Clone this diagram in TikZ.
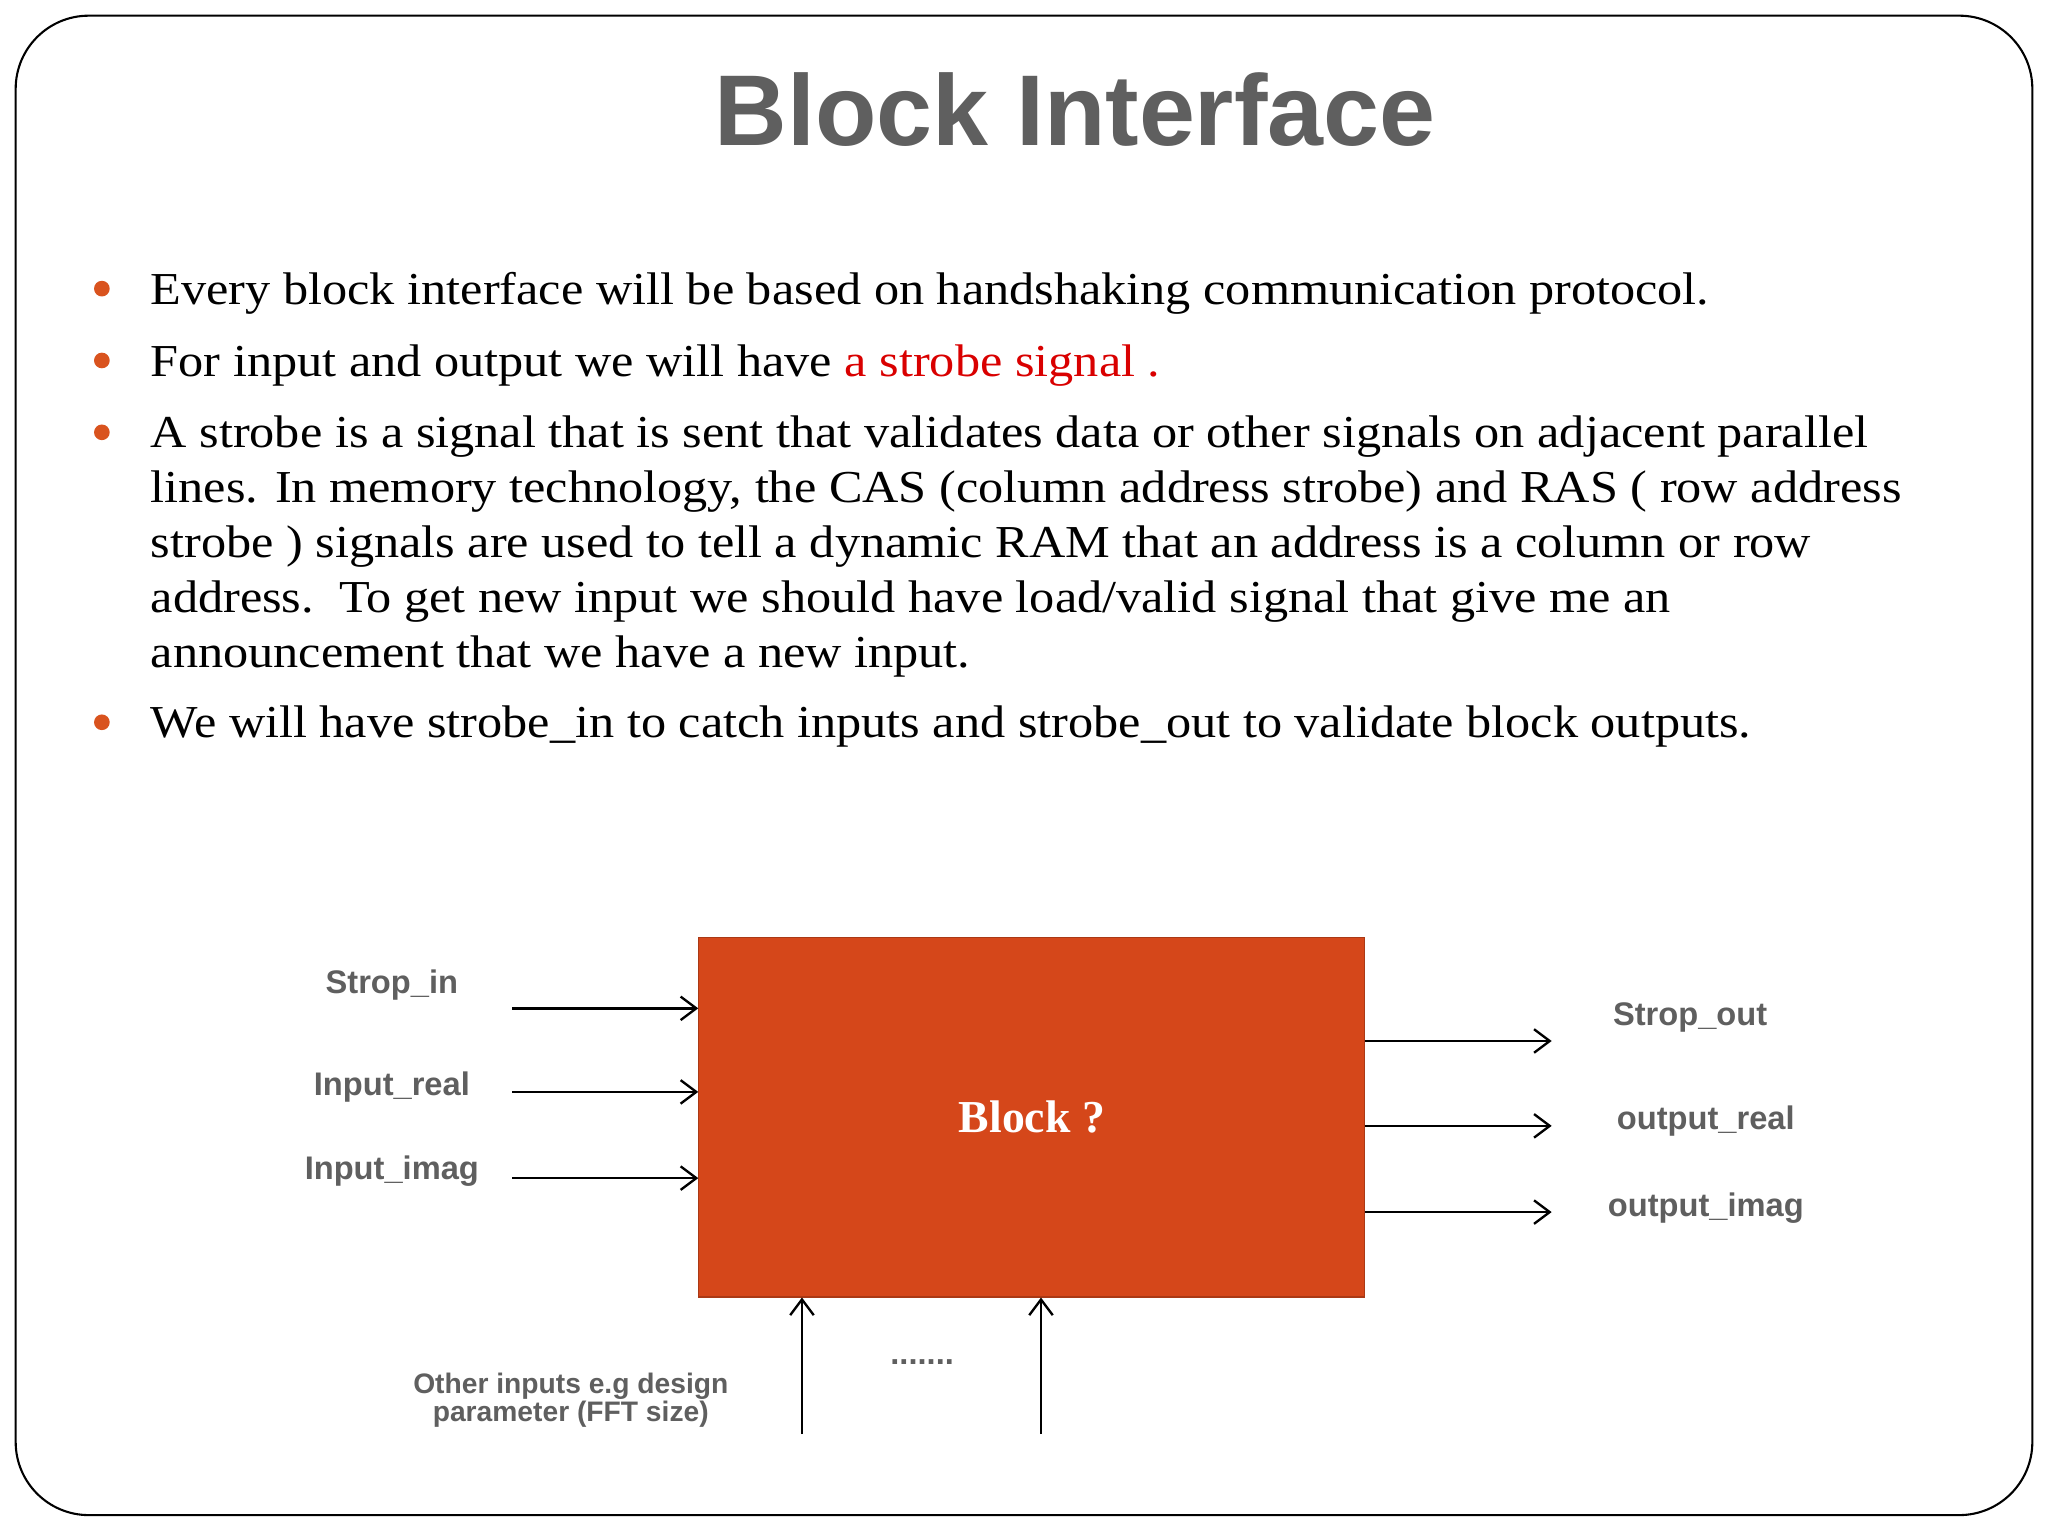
\documentclass[tikz,border=0pt]{standalone}
\usepackage{fontspec}
\setmainfont{Liberation Serif}
\newfontfamily\wideserif[FakeStretch=1.1]{Liberation Serif}
\newfontfamily\lsans{Liberation Sans}
\usetikzlibrary{arrows.meta}
\definecolor{blk}{HTML}{D5471A}
\definecolor{bul}{HTML}{D9531E}
\definecolor{tgray}{HTML}{5F5F5F}
\tikzset{
 bl/.style={anchor=base west,inner sep=0,font=\wideserif\fontsize{17.5}{20}\selectfont},
 dot/.style={circle,fill=bul,inner sep=0,minimum size=6pt},
 sig/.style={font=\lsans\bfseries\fontsize{12.5}{13}\selectfont,text=tgray,inner sep=0},
 arr/.style={-{Straight Barb[length=6pt,width=9pt]},line width=0.9pt}
}
\begin{document}
\begin{tikzpicture}[x=0.5pt,y=-0.5pt]
\useasboundingbox (0,0) rectangle (1568,1176);
\draw[line width=0.8pt,rounded corners=28pt] (12,12) rectangle (1556,1160);
\node[font=\lsans\bfseries\fontsize{38.5}{44}\selectfont,text=tgray] (title) at (823,84) {Block Interface};
\foreach \y/\n in {221/a,276/b,331/c,553/d}{\node[dot] (dot\n) at (78,\y) {};}
\node[bl] (l1) at (115,233) {Every block interface will be based on handshaking communication protocol.};
\node[bl] (l2) at (115,288) {For input and output we will have \textcolor{red!85!black}{a strobe signal .}};
\node[bl] (l3) at (115,343) {A strobe is a signal that is sent that validates data or other signals on adjacent parallel};
\node[bl] (l4) at (115,385) {lines. In memory technology, the CAS (column address strobe) and RAS ( row address};
\node[bl] (l5) at (115,427) {strobe ) signals are used to tell a dynamic RAM that an address is a column or row};
\node[bl] (l6) at (115,469) {address.\ \ To get new input we should have load/valid signal that give me an};
\node[bl] (l7) at (115,511) {announcement that we have a new input.};
\node[bl] (l8) at (115,565) {We will have strobe\_in to catch inputs and strobe\_out to validate block outputs.};
\node[draw=blk!80!black,fill=blk,minimum width=255pt,minimum height=137.5pt,text=white,font=\fontsize{17.5}{20}\selectfont\bfseries] (blk) at (790,855.5) {Block ?};
\foreach \y/\n in {772/i1,836/i2,902/i3}{\coordinate (\n) at (392,\y); \draw[arr] (\n) -- (blk.west |- \n);}
\foreach \y/\n in {797/o1,862/o2,928/o3}{\coordinate (\n) at (1188,\y); \draw[arr] (blk.east |- \n) -- (\n);}
\foreach \x/\n in {614/u1,797/u2}{\coordinate (\n) at (\x,1098); \draw[arr] (\n) -- (\n |- blk.south);}
\node[sig] (s1) at (300,754) {Strop\_in};
\node[sig] (s2) at (300,832) {Input\_real};
\node[sig] (s3) at (300,897) {Input\_imag};
\node[sig] (s4) at (1294,779) {Strop\_out};
\node[sig] (s5) at (1306,858) {output\_real};
\node[sig] (s6) at (1306,925) {output\_imag};
\node[sig] (dots) at (706,1043) {.......};
\node[sig,align=center,font=\lsans\bfseries\fontsize{10.8}{11}\selectfont] (oth) at (437,1072) {Other inputs e.g design\\parameter (FFT size)};
\end{tikzpicture}
\end{document}
